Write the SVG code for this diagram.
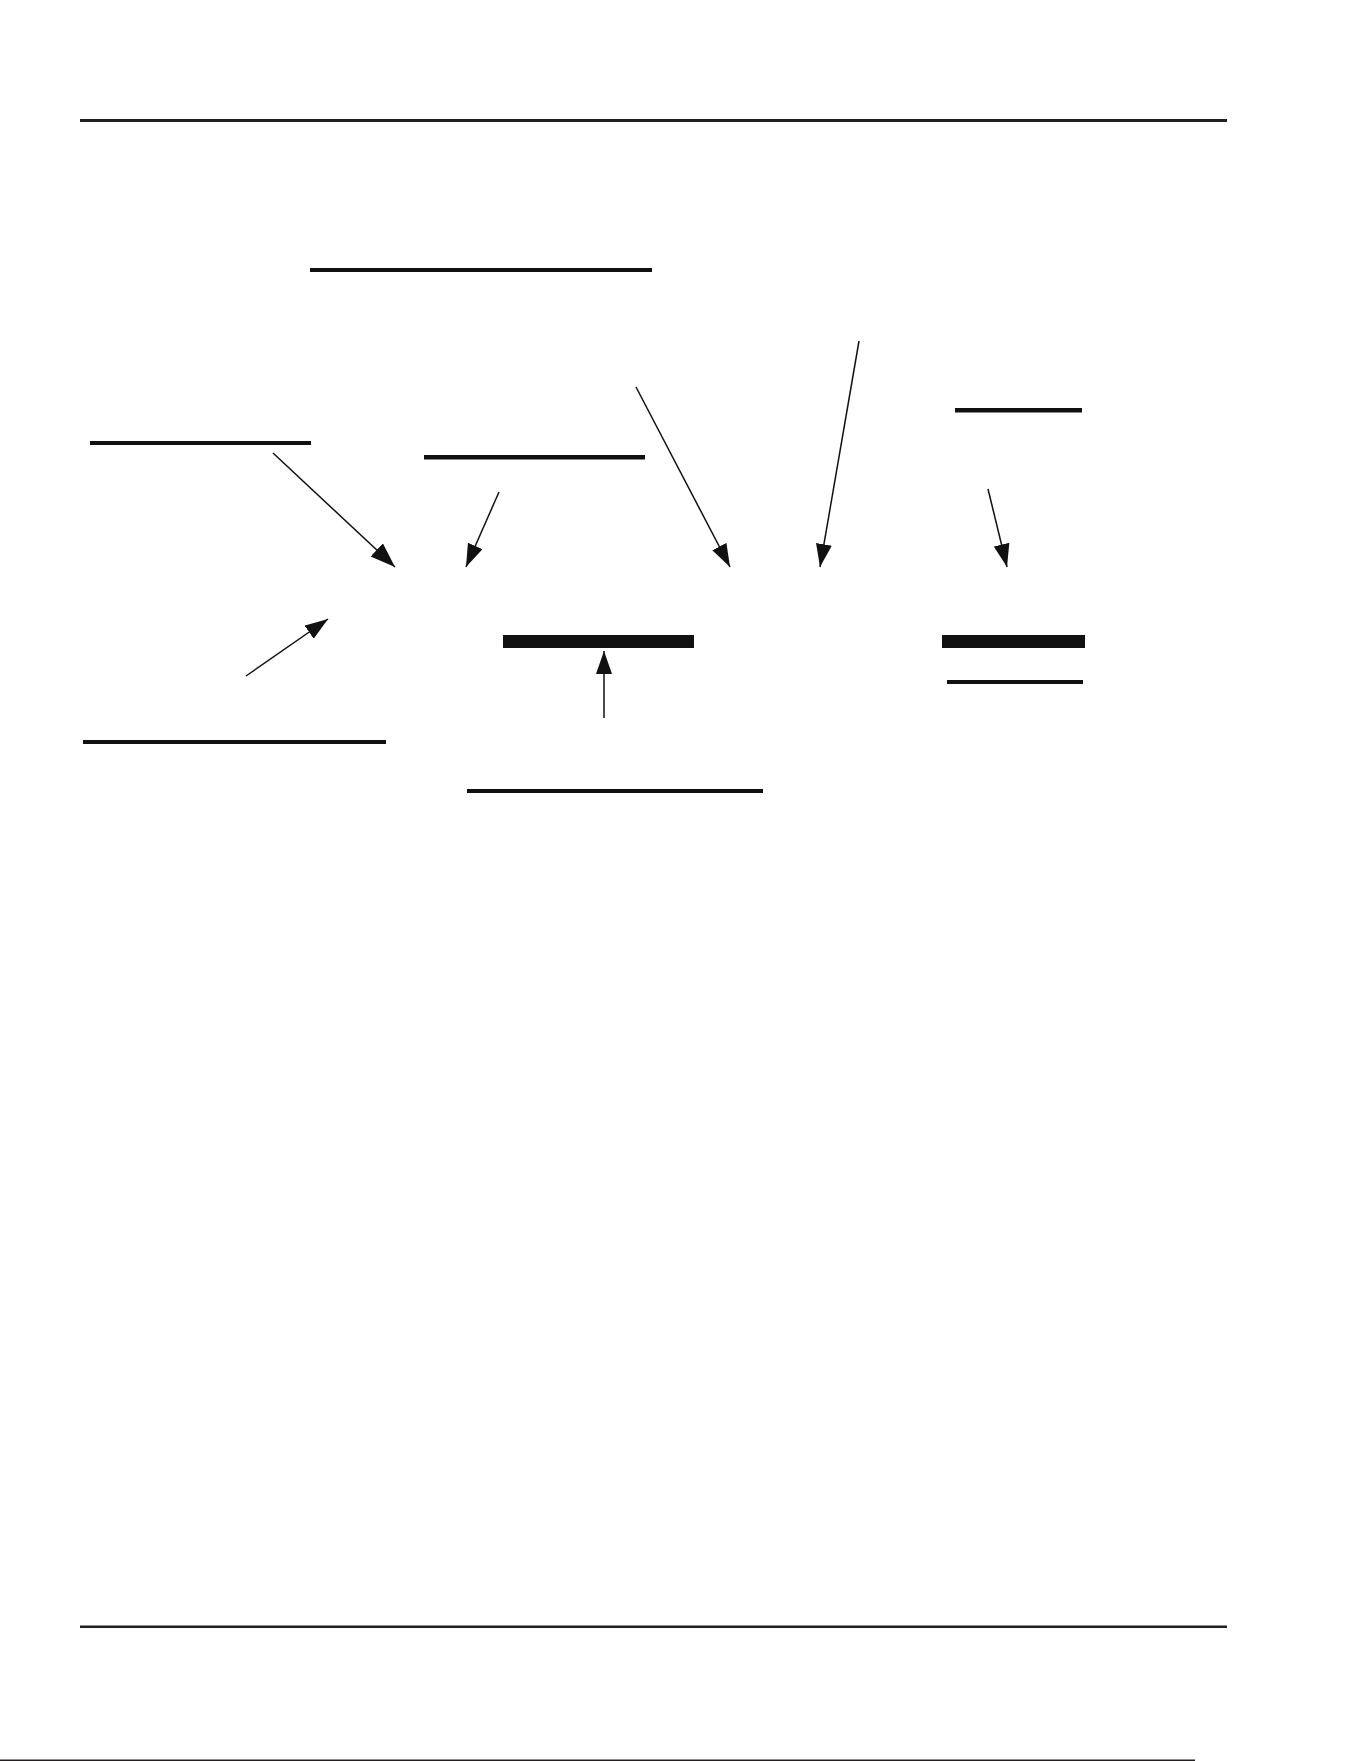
<svg xmlns="http://www.w3.org/2000/svg" width="1361" height="1761" viewBox="0 0 1361 1761">
<style>
.rule{fill:#231f20}
.bar{fill:#111}
.conn{stroke:#111;stroke-width:1.5;fill:none}
</style>
<defs>
<marker id="ah" markerUnits="userSpaceOnUse" markerWidth="24" markerHeight="17" refX="23" refY="8" orient="auto">
<path d="M0,0 L23,8 L0,16 z" fill="#111"/>
</marker>
<marker id="ahBig" markerUnits="userSpaceOnUse" markerWidth="26" markerHeight="19" refX="25" refY="9" orient="auto">
<path d="M0,0 L25,9 L0,18 z" fill="#111"/>
</marker>
</defs>
<rect width="1361" height="1761" fill="#fff"/>
<g id="header"><rect class="rule" x="80" y="119" width="1147" height="3"/></g>
<g id="node-top"><rect class="bar" x="310" y="268" width="342" height="4"/></g>
<g id="node-left"><rect class="bar" x="90" y="441" width="221" height="4"/></g>
<g id="node-middle"><rect class="bar" x="424" y="455" width="221" height="4.5"/></g>
<g id="node-right-top"><rect class="bar" x="955" y="408" width="127" height="4.5"/></g>
<g id="node-center-bar"><rect class="bar" x="503" y="635" width="191" height="13"/></g>
<g id="node-right-bar"><rect class="bar" x="942" y="635" width="143" height="13"/></g>
<g id="node-right-under"><rect class="bar" x="947" y="680" width="136" height="4"/></g>
<g id="node-bottom-left"><rect class="bar" x="83" y="740" width="303" height="4"/></g>
<g id="node-bottom-center"><rect class="bar" x="467" y="789" width="296" height="4"/></g>
<g id="footer"><rect class="rule" x="80" y="1625.5" width="1147" height="2.5"/></g>
<g id="edge"><rect class="rule" x="0" y="1759.5" width="1195" height="1.5"/></g>
<g id="connectors">
<line class="conn" x1="273" y1="453" x2="395" y2="567" marker-end="url(#ahBig)"/>
<line class="conn" x1="499" y1="492" x2="466" y2="567" marker-end="url(#ah)"/>
<line class="conn" x1="636" y1="387" x2="730" y2="567" marker-end="url(#ah)"/>
<line class="conn" x1="859" y1="341" x2="820" y2="567" marker-end="url(#ah)"/>
<line class="conn" x1="988" y1="489" x2="1007" y2="567" marker-end="url(#ah)"/>
<line class="conn" x1="246" y1="676" x2="328" y2="619" marker-end="url(#ah)"/>
<line class="conn" x1="604" y1="718" x2="604" y2="651" marker-end="url(#ah)"/>
</g>
</svg>
